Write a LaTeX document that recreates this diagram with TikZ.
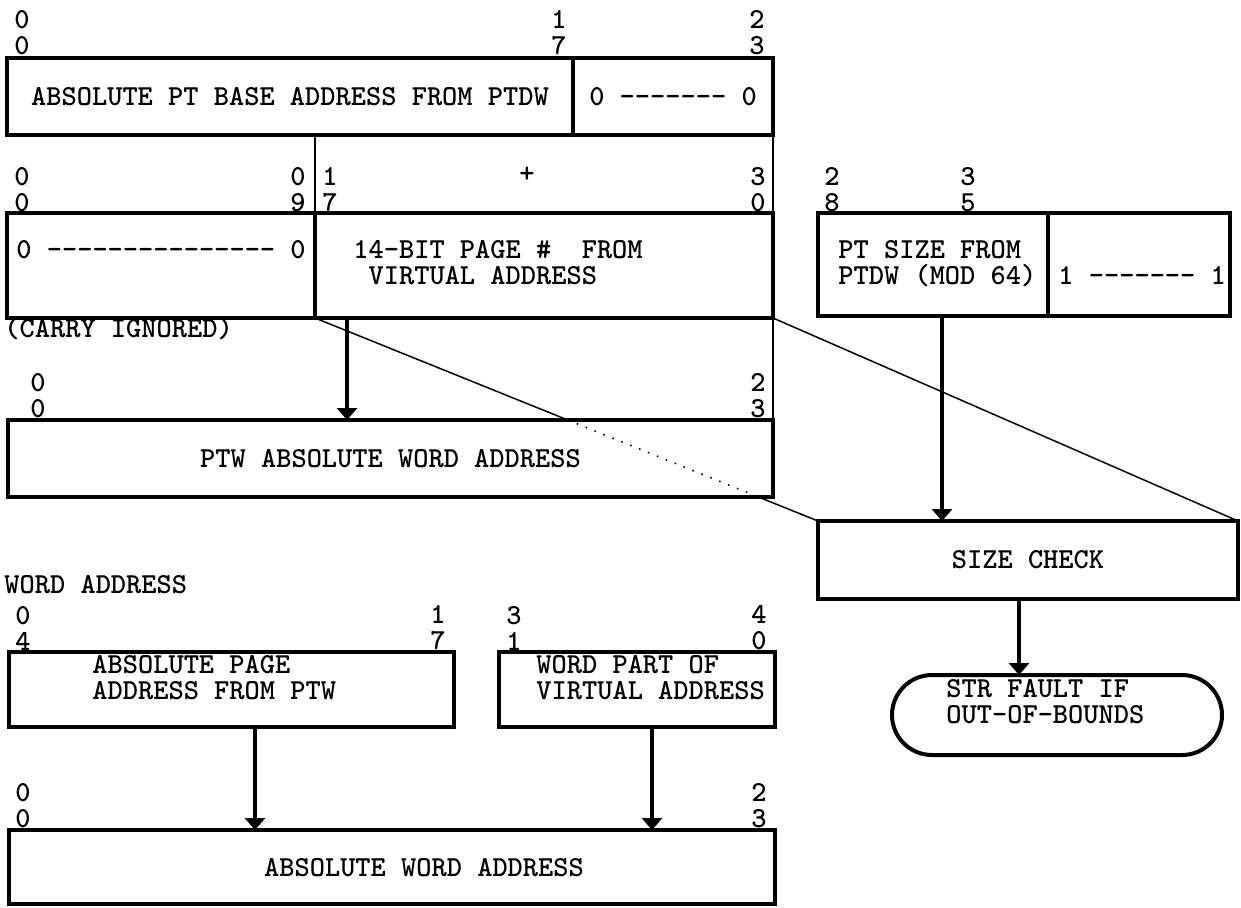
\documentclass[tikz,border=0pt]{standalone}
\usepackage{tikz}
\usetikzlibrary{arrows.meta,calc,positioning}
\newcommand\dashrun[1]{\foreach \i in {1,...,#1}{-{}}}
\tikzset{
    mybox/.style={draw=black,line width=2pt,inner sep=0pt,outer sep=0pt,anchor=north west},
    mytext/.style={anchor=base west,inner sep=0pt,align=left},
    mybit/.style={inner sep=0pt,align=center},
    myarrow/.style={line width=2pt,-{Triangle[length=6pt,width=10pt]}},
    myline/.style={line width=0.75pt,draw=black},
    mydots/.style={line width=0.75pt,draw=black,dash pattern=on 0.8pt off 4pt},
    every node/.style={font=\ttfamily\bfseries\fontsize{14.5}{13}\selectfont}
}

\begin{document}
\begin{tikzpicture}[x=0.5pt,y=-0.5pt]
  \useasboundingbox (0,0) rectangle (1241,907);

  % PT base word from the PTDW
  \node[mybox,minimum width=283pt,minimum height=38.5pt] (ptbase) at (7,58) {ABSOLUTE PT BASE ADDRESS FROM PTDW};
  \node[mybox,minimum width=100pt,minimum height=38.5pt] (ptzero) at (ptbase.north east) {0 \dashrun{7} 0};

  % page number from the virtual address (multi-line texts sit on their last line)
  \node[mybox,minimum width=154pt,minimum height=52.5pt] (carry) at (7,213) {};
  \node[mybox,minimum width=229pt,minimum height=52.5pt] (vpage) at (carry.north east) {};
  \node[mytext] (carrytxt) at (16,258) {0 \dashrun{15} 0};
  \node[mytext] (vpagetxt) at (353,284) {14-BIT PAGE \#\ \ FROM\\\phantom{0}VIRTUAL ADDRESS};
  \node[anchor=base west,inner sep=0pt] (ignored) at (4,337) {(CARRY IGNORED)};
  \node[mybit] (plus) at (527,175) {+};

  % PT size
  \node[mybox,minimum width=115pt,minimum height=51.5pt] (ptsize) at (818,213) {};
  \node[mybox,minimum width=91pt,minimum height=51.5pt] (ptones) at (ptsize.north east) {};
  \node[mytext] (ptsizetxt) at (838,284) {PT SIZE FROM\\PTDW (MOD 64)};
  \node[mytext] (ptonestxt) at (1058,284) {1 \dashrun{7} 1};

  % PTW word address and size check
  \node[mybox,minimum width=382.5pt,minimum height=38.5pt] (ptw) at (8,420) {PTW ABSOLUTE WORD ADDRESS};
  \node[mybox,minimum width=210pt,minimum height=39pt] (sizechk) at (818,521) {SIZE CHECK};
  \node[mybox,rounded corners=20pt,minimum width=165pt,minimum height=40pt] (strfault) at (892,675) {};
  \node[mytext] (strtxt) at (946,723) {STR FAULT IF\\OUT-OF-BOUNDS};

  % word address
  \node[anchor=base west,inner sep=0pt] (wordaddr) at (4,593) {WORD ADDRESS};
  \node[mybox,minimum width=222.5pt,minimum height=37.5pt] (abspage) at (9,652) {};
  \node[mybox,minimum width=138pt,minimum height=37.5pt] (wordpart) at (499,652) {};
  \node[mytext] (abspagetxt) at (92,699) {ABSOLUTE PAGE\\ADDRESS FROM PTW};
  \node[mytext] (wordparttxt) at (536,699) {WORD PART OF\\VIRTUAL ADDRESS};
  \node[mybox,minimum width=383pt,minimum height=37pt] (absword) at (9,830) {};
  \node (abswordtxt) at (424,868) {ABSOLUTE WORD ADDRESS};

  % bit numbers
  \foreach \n/\x/\y/\a/\b in {t0/22/33/0/0,t1/559/33/1/7,t2/757/33/2/3,
      s0/22/190/0/0,s1/298/190/0/9,s2/330/190/1/7,s3/758/190/3/0,s4/832/190/2/8,s5/968/190/3/5,
      p0/38/396/0/0,p1/758/396/2/3,
      w0/23/628/0/4,w1/438/628/1/7,w2/514/628/3/1,w3/759/628/4/0,
      a0/23/806/0/0,a1/759/806/2/3}{
    \node[mybit] (\n) at (\x,\y) {\a\\\b};
  }

  % thin guide lines
  \draw[myline] (carry.north east |- ptbase.south) -- (carry.north east);
  \draw[myline] (ptzero.south east) -- (vpage.north east);
  \draw[myline] (vpage.south east) -- (ptw.north east);
  \draw[myline] (vpage.south east) -- (sizechk.north east);
  \coordinate (d1) at (intersection of carry.south east--sizechk.north west and ptw.north west--ptw.north east);
  \coordinate (d2) at (intersection of carry.south east--sizechk.north west and ptw.south west--ptw.south east);
  \draw[myline] (carry.south east) -- (d1);
  \draw[mydots] (d1) -- (d2);
  \draw[myline] (d2) -- (sizechk.north west);

  % arrows
  \draw[myarrow] ($(vpage.south west)+(32,0)$) coordinate (e1) -- (e1 |- ptw.north);
  \draw[myarrow] ($(ptsize.south west)+(124,0)$) coordinate (e2) -- (e2 |- sizechk.north);
  \draw[myarrow] ($(sizechk.south west)+(201,0)$) coordinate (e3) -- (e3 |- strfault.north);
  \draw[myarrow] ($(abspage.south west)+(246,0)$) coordinate (e4) -- (e4 |- absword.north);
  \draw[myarrow] ($(wordpart.south west)+(153,0)$) coordinate (e5) -- (e5 |- absword.north);
\end{tikzpicture}
\end{document}
